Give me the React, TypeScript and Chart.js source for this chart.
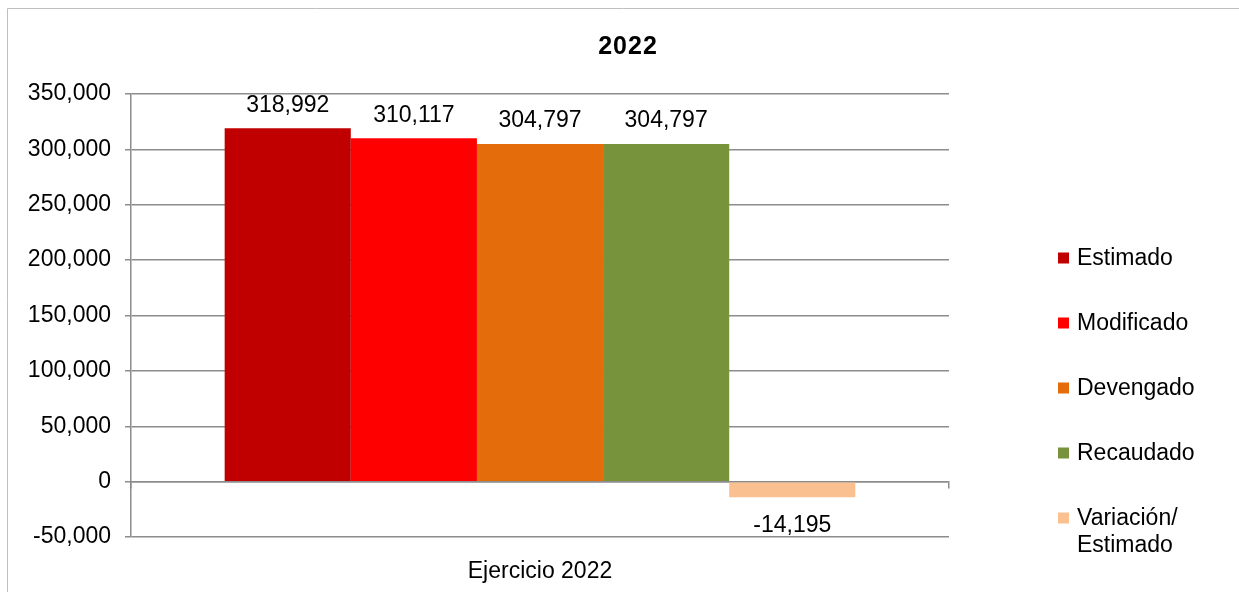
import React, { useEffect, useRef } from "react";
import { Chart, registerables } from "chart.js";

Chart.register(...registerables);

const chartTitle = "2022";
const categories = ["Ejercicio 2022"];
const seriesLabels = ["Estimado", "Modificado", "Devengado", "Recaudado", "Variación/ Estimado"];
const seriesValues = [318992, 310117, 304797, 304797, -14195];
const seriesColors = ["#C00000", "#FF0000", "#E46C0A", "#77933C", "#FAC090"];
const yMin = -50000;
const yMax = 350000;
const yStep = 50000;

const FONT = "'Liberation Sans', Arial, sans-serif";
const GRID = "#8c8c8c";
const fmt = (v: number) => v.toLocaleString("en-US");

const decorPlugin = {
  id: "decor",
  afterDraw(chart: any) {
    const ctx = chart.ctx;
    const w = chart.width;
    const h = chart.height;
    ctx.save();
    // outer border
    ctx.strokeStyle = "#bfbfbf";
    ctx.lineWidth = 1;
    ctx.beginPath();
    ctx.moveTo(7.5, h);
    ctx.lineTo(7.5, 8.5);
    ctx.lineTo(w, 8.5);
    ctx.stroke();

    // title
    ctx.fillStyle = "#000";
    ctx.font = `bold 25px ${FONT}`;
    ctx.textAlign = "center";
    ctx.textBaseline = "middle";
    try {
      (ctx as any).letterSpacing = "1px";
    } catch (e) {}
    ctx.fillText(chartTitle, 628, 47);
    try {
      (ctx as any).letterSpacing = "0px";
    } catch (e) {}

    // data labels
    ctx.font = `23px ${FONT}`;
    chart.data.datasets.forEach((ds: any, i: number) => {
      const meta = chart.getDatasetMeta(i);
      meta.data.forEach((bar: any, j: number) => {
        const v = ds.data[j];
        const props = bar.getProps(["x", "y", "base"], true);
        const top = Math.min(props.y, props.base);
        const bottom = Math.max(props.y, props.base);
        const y = v >= 0 ? top - 23 : bottom + 28;
        ctx.fillText(fmt(v), props.x, y);
      });
    });

    // legend
    ctx.textAlign = "left";
    const lx = 1058;
    let ly = 258;
    chart.data.datasets.forEach((ds: any) => {
      const parts = ds.label.includes("/ ")
        ? ds.label.split("/ ").map((s: string, k: number, a: string[]) => (k < a.length - 1 ? s + "/" : s))
        : [ds.label];
      ctx.fillStyle = ds.backgroundColor;
      ctx.fillRect(lx, ly - 5.5, 11, 11);
      ctx.fillStyle = "#000";
      parts.forEach((p: string, k: number) => {
        ctx.fillText(p, lx + 19, ly + 1 + k * 27);
      });
      ly += 65;
    });
    ctx.restore();
  },
};

export default function App() {
  const ref = useRef<HTMLCanvasElement | null>(null);
  useEffect(() => {
    if (!ref.current) return;
    const chart = new Chart(ref.current, {
      type: "bar",
      data: {
        labels: categories,
        datasets: seriesLabels.map((label, i) => ({
          label,
          data: [seriesValues[i]],
          backgroundColor: seriesColors[i],
          borderWidth: 0,
          categoryPercentage: 0.771,
          barPercentage: 1,
        })),
      },
      options: {
        animation: false,
        responsive: true,
        maintainAspectRatio: false,
        layout: { padding: { left: 0, right: 290, top: 94, bottom: 0 } },
        plugins: {
          legend: { display: false },
          title: { display: false },
          tooltip: { enabled: false },
        },
        scales: {
          x: {
            type: "category",
            position: "bottom",
            grid: { display: false },
            border: { display: false },
            ticks: { font: { family: FONT, size: 23 }, color: "#000", padding: 13 },
            afterFit: (s: any) => {
              s.height = 55;
            },
          },
          x2: {
            type: "category",
            labels: categories,
            offset: true,
            position: { y: 0 } as any,
            grid: { offset: true, drawOnChartArea: false, tickLength: 6, color: GRID, lineWidth: 1.5 },
            border: { color: GRID, width: 1.5 },
            ticks: { display: false },
          },
          y: {
            min: yMin,
            max: yMax,
            ticks: {
              stepSize: yStep,
              font: { family: FONT, size: 23 },
              color: "#000",
              padding: 14,
              callback: (v: any) => fmt(Number(v)),
            },
            grid: { color: GRID, lineWidth: 1.5, tickLength: 6 },
            border: { color: GRID, width: 1.5 },
            afterFit: (s: any) => {
              s.width = 131;
            },
          },
        },
      },
      plugins: [decorPlugin],
    });
    return () => chart.destroy();
  }, []);
  return (
    <div style={{ position: "absolute", left: 0, top: 0, width: 1239, height: 592, background: "#fff" }}>
      <canvas ref={ref} />
    </div>
  );
}
